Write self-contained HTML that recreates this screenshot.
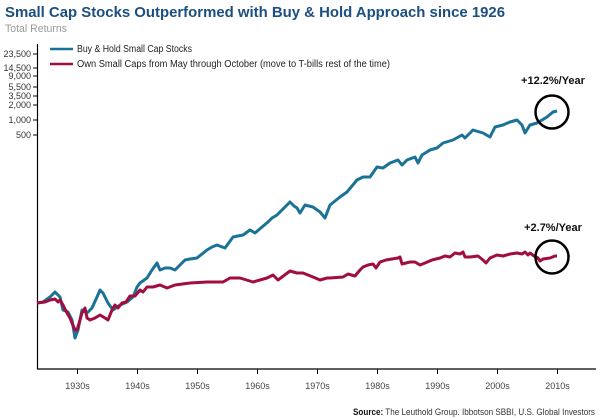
<!DOCTYPE html>
<html><head><meta charset="utf-8"><style>
html,body{margin:0;padding:0;background:#fff;}
svg{display:block;font-family:"Liberation Sans",sans-serif;}
</style></head><body>
<svg width="600" height="418" viewBox="0 0 600 418" xmlns="http://www.w3.org/2000/svg">
<text x="5" y="17" font-size="15" font-weight="bold" fill="#1c4f80" textLength="500" lengthAdjust="spacingAndGlyphs">Small Cap Stocks Outperformed with Buy &amp; Hold Approach since 1926</text>
<text x="5" y="32" font-size="11" fill="#999" textLength="62" lengthAdjust="spacingAndGlyphs">Total Returns</text>
<line x1="37.5" y1="44" x2="37.5" y2="369" stroke="#000" stroke-width="1.2"/>
<line x1="37" y1="369" x2="596" y2="369" stroke="#000" stroke-width="1.2"/>
<g stroke="#000" stroke-width="1">
<line x1="33" y1="54" x2="38" y2="54"/><line x1="33" y1="68" x2="38" y2="68"/><line x1="33" y1="76" x2="38" y2="76"/><line x1="33" y1="87" x2="38" y2="87"/><line x1="33" y1="96" x2="38" y2="96"/><line x1="33" y1="105" x2="38" y2="105"/><line x1="33" y1="120" x2="38" y2="120"/><line x1="33" y1="135" x2="38" y2="135"/>
<line x1="77.5" y1="369" x2="77.5" y2="374"/><line x1="137.5" y1="369" x2="137.5" y2="374"/><line x1="197.5" y1="369" x2="197.5" y2="374"/><line x1="257.5" y1="369" x2="257.5" y2="374"/><line x1="317.5" y1="369" x2="317.5" y2="374"/><line x1="377.5" y1="369" x2="377.5" y2="374"/><line x1="437.5" y1="369" x2="437.5" y2="374"/><line x1="497.5" y1="369" x2="497.5" y2="374"/><line x1="557.5" y1="369" x2="557.5" y2="374"/>
</g>
<g font-size="9" fill="#333" text-anchor="end">
<text x="31" y="57">23,500</text><text x="31" y="71">14,500</text><text x="31" y="79">9,000</text><text x="31" y="90">5,500</text><text x="31" y="99">3,500</text><text x="31" y="108">2,000</text><text x="31" y="123">1,000</text><text x="31" y="138">500</text>
</g>
<g font-size="9" fill="#444" text-anchor="middle">
<text x="77.5" y="389">1930s</text><text x="137.5" y="389">1940s</text><text x="197.5" y="389">1950s</text><text x="257.5" y="389">1960s</text><text x="317.5" y="389">1970s</text><text x="377.5" y="389">1980s</text><text x="437.5" y="389">1990s</text><text x="497.5" y="389">2000s</text><text x="557.5" y="389">2010s</text>
</g>
<line x1="50" y1="49" x2="73" y2="49" stroke="#1a7397" stroke-width="2.5"/>
<line x1="50" y1="64" x2="73" y2="64" stroke="#a10d3f" stroke-width="2.5"/>
<text x="77" y="52" font-size="10" fill="#222" textLength="115" lengthAdjust="spacingAndGlyphs">Buy &amp; Hold Small Cap Stocks</text>
<text x="77" y="67" font-size="10" fill="#222" textLength="313" lengthAdjust="spacingAndGlyphs">Own Small Caps from May through October (move to T-bills rest of the time)</text>
<polyline fill="none" stroke="#1a7397" stroke-width="3" stroke-linejoin="round" points="37,303 43,302 50,297 55,292 60,297 63,310 68,312 72,320 75,338 78,330 82,310 87,313 92,308 97,297 100,290 103,293 108,303 113,310 120,305 127,302 133,297 137,287 140,283 147,278 152,270 157,263 160,270 165,268 170,268 175,270 185,260 190,259 197,258 207,250 212,247 217,245 225,248 233,237 243,235 250,230 255,233 262,227 268,222 272,218 277,215 282,210 290,202 294,206 297,208 300,213 305,205 313,207 320,212 325,218 330,205 335,201 340,197 347,192 352,186 357,180 363,177 370,177 377,167 383,168 390,163 398,160 402,165 407,160 415,157 418,163 422,155 430,150 437,148 443,143 453,140 462,135 465,138 473,130 483,133 490,137 495,127 503,125 510,122 517,120 522,125 525,133 530,125 537,123 542,120 547,117 553,112 557,111"/>
<polyline fill="none" stroke="#a10d3f" stroke-width="3" stroke-linejoin="round" points="37,303 45,302 50,300 55,299 58,302 60,300 63,305 67,313 70,318 72,323 75,330 77,330 80,320 82,313 85,308 87,318 90,320 95,318 100,315 105,318 108,320 112,310 115,305 118,308 122,303 126,302 130,296 135,296 140,290 143,292 147,287 153,287 160,285 167,288 175,285 190,283 207,282 223,282 230,278 240,278 253,282 267,278 273,275 278,280 290,271 297,273 303,273 313,277 320,280 327,278 330,278 343,277 348,274 355,276 360,270 363,267 368,265 373,264 376,268 380,262 386,260 392,259 398,258 400,257 402,264 410,262 415,262 420,265 425,263 432,260 440,258 445,256 450,257 455,253 460,254 463,252 465,257 470,257 478,256 483,260 486,263 490,258 497,255 503,256 510,254 517,253 522,254 525,252 528,255 530,253 534,256 538,258 540,261 543,259 550,258 555,256 557,256"/>
<circle cx="552" cy="112" r="16.5" fill="none" stroke="#000" stroke-width="2.5"/>
<circle cx="552" cy="257" r="16.5" fill="none" stroke="#000" stroke-width="2.5"/>
<text x="553" y="84" font-size="11" font-weight="bold" text-anchor="middle" fill="#111">+12.2%/Year</text>
<text x="553" y="231" font-size="11" font-weight="bold" text-anchor="middle" fill="#111">+2.7%/Year</text>
<text x="595" y="415" font-size="9" fill="#333" text-anchor="end" textLength="242" lengthAdjust="spacingAndGlyphs"><tspan font-weight="bold" fill="#111">Source:</tspan> The Leuthold Group. Ibbotson SBBI, U.S. Global Investors</text>
</svg>
</body></html>
